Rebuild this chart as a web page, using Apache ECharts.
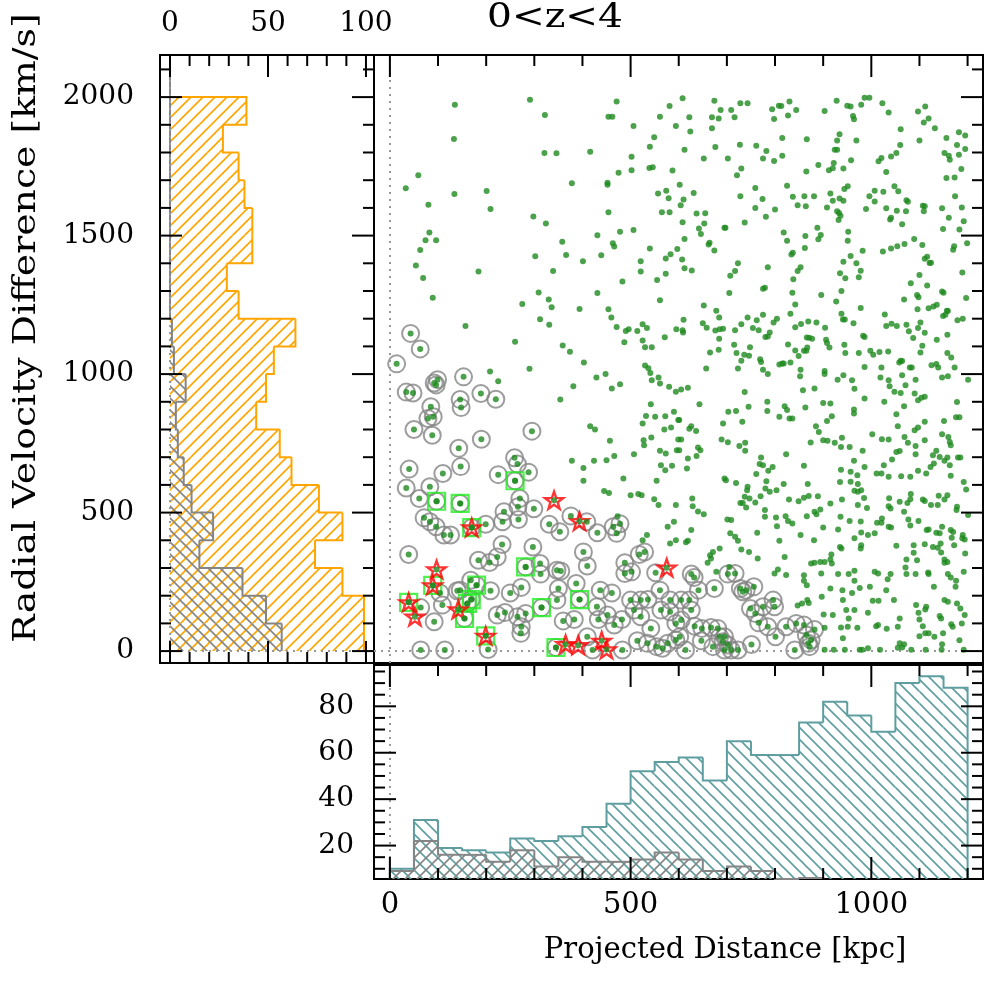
<!DOCTYPE html>
<html>
<head>
<meta charset="utf-8">
<script src="https://cdn.jsdelivr.net/npm/echarts@6/dist/echarts.min.js"></script>
<style>
  html, body { margin: 0; padding: 0; background: #fff; }
  #chart { width: 984px; height: 982px; }
</style>
</head>
<body>
<div id="chart"></div>
<script>
// ---------- data ----------
// velocity bins (km/s) for the side histogram
const velocityEdges = [0,100,200,300,400,500,600,700,800,900,1000,1100,1200,1300,1400,1500,1600,1700,1800,1900,2000,2100];
const velocityAll = [99,99,88,74,88,76,62,56,44,49,53,64,35,29,42,42,38,35,27,39];
const velocityPairs = [57,49,37,15,22,11,7,4,3,8,2,1,0,0,0,0,0,0,0,0,0];

// projected distance bins (kpc) for the lower histogram
const distanceEdges = [0,50,100,150,200,250,300,350,400,450,500,550,600,650,700,750,800,850,900,950,1000,1050,1100,1150,1200];
const distanceAll = [10,31,19,18,17,23,22,24,28,38,52,56,58,48,65,59,59,73,82,76,69,90,93,88];
const distancePairs = [9,22,16,16,13,18,11,15,13,13,14,17,14,9,11,9,0,6];

// tick labels
const distanceTicks = [0,500,1000];
const velocityTicks = [0,500,1000,1500,2000];
const sideCountTicks = [0,50,100];
const lowerCountTicks = [20,40,60,80];

// galaxies: [projected distance kpc, velocity difference km/s]
const fieldUpperRight = [[608,1996],[674,1987],[728,1978],[743,1978],[830,1984],[808,1969],[813,1968],[928,1987],[986,1998],[996,1998],[979,1972],[1023,1978],[950,1969],[957,1966],[687,1953],[709,1953],[794,1956],[844,1953],[903,1950],[1036,1944],[1097,1948],[1112,1966],[622,1927],[669,1927],[683,1923],[716,1927],[798,1921],[827,1934],[962,1932],[964,1920],[1119,1923],[1109,1908],[669,1888],[624,1876],[1061,1884],[1132,1888],[1182,1873],[934,1866],[815,1852],[866,1848],[929,1843],[969,1843],[1100,1843],[1156,1852],[1195,1861],[612,1810],[676,1820],[727,1828],[761,1824],[782,1805],[924,1810],[929,1810],[1060,1827],[1178,1827],[1195,1813],[1052,1798],[652,1778],[702,1778],[775,1778],[798,1769],[815,1788],[958,1772],[922,1762],[1015,1768],[1021,1780],[1041,1786],[1152,1798],[1161,1788],[1182,1792],[1163,1774],[730,1742],[721,1718],[865,1731],[890,1755],[912,1736],[920,1743],[942,1742],[1031,1730],[1187,1740],[1156,1708],[1173,1710],[602,1684],[825,1680],[759,1672],[944,1668],[951,1678],[1048,1678],[631,1654],[728,1642],[774,1632],[837,1640],[861,1642],[881,1642],[915,1652],[920,1626],[934,1634],[942,1626],[996,1642],[1007,1662],[1025,1658],[1056,1660],[1073,1628],[1076,1622],[1174,1642],[604,1610],[610,1630],[759,1600],[847,1610],[864,1606],[908,1601],[929,1588],[933,1582],[989,1596],[1007,1623],[1031,1599],[1053,1590],[1072,1588],[1107,1608],[1111,1606],[1109,1588],[1147,1599],[1188,1601],[637,1580],[655,1581],[608,1548],[653,1544],[737,1547],[781,1568],[800,1594],[932,1556],[936,1572],[1039,1558],[1041,1564],[1064,1541],[1161,1564],[1192,1552],[642,1526],[646,1506],[695,1528],[697,1528],[818,1511],[888,1528],[895,1502],[952,1514],[1149,1524],[1183,1522],[612,1488],[863,1499],[890,1487],[825,1481],[951,1481],[1089,1488],[664,1474],[662,1468],[1069,1470],[1054,1462],[1041,1453],[1024,1443],[982,1445],[862,1455],[837,1438],[834,1432],[674,1446],[1106,1466],[1172,1462],[1170,1449],[1199,1472],[607,1414],[957,1426],[942,1406],[969,1400],[723,1400],[717,1372],[707,1355],[627,1374],[612,1382],[785,1386],[853,1386],[847,1372],[978,1373],[1111,1416],[1116,1424],[1121,1401],[1124,1402],[1189,1367],[838,1342],[935,1364],[946,1346],[974,1350],[1082,1328],[1100,1358],[1116,1320],[779,1312],[775,1308],[705,1293],[836,1294],[896,1286],[938,1300],[927,1262],[1068,1269],[1095,1286],[1098,1277],[1147,1298],[1150,1294],[1197,1275],[652,1248],[842,1251],[978,1239],[1096,1234],[1119,1238],[1129,1244],[1136,1250],[1157,1229],[678,1229],[684,1204],[610,1196],[650,1184],[658,1167],[676,1157],[692,1164],[685,1162],[717,1158],[730,1180],[743,1204],[762,1194],[754,1166],[766,1158],[775,1214],[797,1186],[804,1200],[832,1218],[842,1169],[854,1181],[869,1190],[886,1186],[904,1167],[938,1218],[941,1197],[945,1197],[963,1184],[1028,1215],[1031,1174],[1042,1182],[1053,1174],[1073,1178],[1078,1155],[1097,1166],[1102,1186],[1111,1149],[1149,1210],[1154,1214],[1159,1228],[1179,1194],[1190,1200],[608,1158],[609,1150],[684,1128],[789,1150],[780,1134],[785,1136],[866,1132],[871,1131],[877,1128],[906,1124],[908,1112],[983,1138],[986,1134],[1087,1130],[1136,1124],[1158,1142],[1106,1102],[913,1096],[665,1078],[683,1088],[715,1106],[720,1076],[736,1070],[746,1066],[748,1097],[730,1048],[769,1054],[771,1044],[827,1107],[842,1085],[849,1065],[860,1084],[865,1084],[867,1096],[944,1106],[946,1076],[974,1076],[998,1084],[1004,1070],[1017,1080],[1035,1082],[1058,1042],[1061,1048],[1064,1047],[1080,1024],[1084,1024],[1102,1078],[1125,1032],[1135,1036],[1139,1024],[1158,1076],[1166,1060],[657,1020],[723,1020],[775,1016],[809,1035],[815,1038],[818,1038],[832,1042],[853,1016],[903,1011],[986,1026],[1021,1024],[1173,1024]];

const fieldUpperLeft = [[135,1972],[291,1990],[322,1935],[471,1984],[581,1968],[454,1929],[462,1929],[561,1929],[506,1896],[594,1896],[133,1849],[549,1855],[321,1798],[346,1797],[416,1803],[540,1821],[502,1785],[502,1736],[539,1744],[546,1747],[587,1735],[475,1727],[59,1718],[33,1671],[134,1650],[201,1661],[378,1689],[452,1691],[452,1684],[557,1652],[574,1662],[579,1635],[80,1611],[209,1596],[298,1569],[324,1544],[454,1584],[565,1584],[581,1584],[82,1511],[74,1483],[96,1483],[63,1448],[358,1478],[366,1430],[302,1425],[431,1501],[478,1514],[506,1520],[463,1472],[466,1461],[439,1429],[401,1407],[540,1453],[521,1407],[521,1370],[597,1452],[583,1433],[573,1417],[573,1362],[555,1340],[54,1392],[69,1347],[184,1370],[339,1372],[483,1334],[89,1276],[309,1295],[431,1293],[561,1267],[275,1253],[330,1269],[336,1241],[394,1235],[454,1234],[460,1204],[312,1198],[331,1178],[157,1174],[471,1170],[490,1156],[496,1162],[514,1156],[525,1180],[534,1166],[487,1115],[525,1121],[530,1097],[544,1097],[571,1133],[595,1162],[260,1117],[359,1103],[374,1081],[403,1042],[290,1019],[208,1009],[530,1031],[537,1021]];

const fieldLowerLeft = [[225,974],[381,956],[354,908],[429,988],[448,1000],[461,948],[478,963],[541,1004],[544,978],[561,966],[558,988],[580,954],[594,936],[542,891],[532,849],[551,846],[572,848],[590,864],[599,834],[525,822],[570,800],[584,807],[416,812],[426,800],[457,759],[543,771],[527,761],[528,743],[599,764],[561,723],[573,713],[596,725],[563,671],[572,653],[586,669],[507,711],[466,704],[450,689],[424,687],[402,661],[378,687],[402,615],[485,623],[554,615],[445,578],[455,571],[500,563],[516,567],[523,563],[549,548],[558,527],[594,527],[577,449],[590,467],[534,419],[525,400],[582,388],[594,400],[473,487]];

const fieldLowerRight = [[785,1000],[852,992],[903,1000],[942,996],[930,980],[960,978],[1019,988],[1036,978],[1064,996],[1092,980],[1147,988],[1159,992],[1201,980],[605,944],[619,951],[858,942],[882,948],[965,947],[986,912],[1038,956],[1048,936],[1061,932],[1071,960],[1090,930],[1097,906],[1104,915],[1111,918],[737,935],[643,891],[784,900],[784,867],[745,882],[820,884],[825,870],[863,879],[900,896],[915,894],[964,872],[964,858],[1027,900],[1068,884],[1178,899],[703,864],[719,867],[601,834],[692,822],[732,828],[809,846],[830,840],[836,840],[918,848],[908,831],[885,812],[891,791],[1052,855],[1055,812],[1111,828],[1151,831],[1176,844],[1183,844],[1090,797],[1097,807],[622,803],[626,812],[636,795],[1002,783],[1147,783],[605,764],[689,764],[702,754],[726,740],[738,752],[738,723],[874,753],[900,761],[909,759],[924,752],[939,770],[937,737],[955,737],[982,723],[1022,765],[1036,764],[1069,773],[1076,752],[1092,740],[1111,761],[1135,723],[1160,773],[1163,755],[1165,743],[1185,699],[640,735],[645,725],[601,725],[619,695],[637,704],[823,711],[1052,719],[1059,722],[1092,711],[1128,707],[1142,701],[1158,699],[1180,699],[771,699],[768,675],[775,671],[795,665],[786,651],[617,659],[860,669],[937,655],[957,647],[964,687],[986,665],[1043,692],[1026,671],[1021,641],[1011,641],[1036,629],[1062,631],[1081,629],[1097,651],[1114,641],[1123,665],[1130,677],[1152,687],[1163,671],[1165,633],[1192,610],[1197,583],[761,639],[782,613],[695,623],[698,617],[719,607],[743,593],[742,581],[780,587],[789,575],[803,581],[818,603],[868,603],[935,610],[957,611],[971,635],[972,603],[628,551],[629,523],[640,504],[652,494],[728,535],[733,535],[740,518],[737,557],[747,551],[759,536],[770,559],[829,547],[849,541],[860,554],[870,560],[889,559],[882,503],[886,494],[894,511],[915,533],[939,547],[965,579],[972,575],[979,581],[985,553],[972,527],[991,517],[1037,552],[1040,515],[1036,523],[1059,539],[1075,535],[1081,548],[1082,567],[1107,547],[1111,542],[1124,527],[1138,527],[1140,561],[1152,547],[1158,563],[1177,509],[1178,521],[1201,491],[701,475],[709,473],[779,509],[779,485],[802,482],[804,451],[822,487],[827,470],[836,461],[866,487],[900,446],[931,439],[936,485],[955,470],[978,468],[1012,463],[1022,479],[1021,463],[1036,449],[1041,446],[1068,503],[1077,475],[1081,453],[1098,470],[1115,437],[1119,439],[1135,427],[1142,425],[1147,449],[1165,437],[1170,430],[1190,419],[1194,403],[1189,407],[626,437],[619,398],[615,393],[685,370],[671,358],[665,346],[707,425],[717,413],[723,398],[730,367],[746,358],[763,427],[764,334],[809,398],[853,419],[881,400],[917,349],[935,376],[938,370],[965,407],[979,428],[979,382],[978,370],[993,419],[1007,425],[1052,380],[1088,382],[1088,355],[1073,331],[1095,328],[1111,386],[1128,376],[1138,373],[1144,388],[1145,356],[1152,331],[1158,322],[1167,409],[1172,382],[1195,352],[820,340],[678,286],[660,319],[667,334],[705,304],[799,280],[806,295],[823,275],[860,274],[860,254],[875,316],[882,319],[894,322],[903,322],[918,316],[915,331],[896,280],[866,238],[915,226],[931,278],[953,278],[965,290],[965,254],[976,228],[997,232],[1007,286],[1014,280],[1034,259],[1040,278],[1092,278],[1118,284],[1119,278],[1071,302],[1073,278],[1152,319],[1159,278],[1165,266],[1176,254],[1175,232],[1192,286],[847,165],[856,172],[867,184],[870,174],[897,196],[901,132],[920,130],[940,220],[941,184],[948,148],[953,118],[960,210],[965,148],[993,138],[1003,182],[1015,182],[1031,220],[1047,184],[1059,118],[1093,166],[1098,138],[1112,150],[1114,160],[1130,232],[1152,184],[1159,178],[1178,172],[1185,154],[1194,130],[1188,100],[1142,127],[1145,118],[1166,97],[1169,88],[1107,90],[1100,114],[1055,88],[1032,81],[1014,94],[1010,90],[971,84],[951,88],[937,85],[941,46],[903,84],[1100,54],[1112,64],[1119,64],[1131,52],[1149,64],[1147,25],[1183,39],[1192,5],[1113,5],[1146,5],[1083,5],[1059,28],[1064,13],[1068,25],[1055,12],[1018,5],[993,10],[981,5],[976,5],[945,5],[922,5],[903,5]];

// close pairs (ringed)
const pairs = [[43,1147],[63,1091],[14,1037],[153,990],[92,968],[99,980],[96,961],[34,935],[48,932],[146,908],[148,879],[189,930],[220,909],[85,882],[79,840],[90,846],[50,800],[88,779],[295,794],[143,732],[190,765],[40,657],[110,641],[147,666],[34,589],[83,593],[61,551],[97,541],[146,533],[225,637],[259,698],[265,675],[288,646],[260,615],[270,551],[266,521],[267,475],[299,514],[237,503],[234,467],[331,458],[353,431],[376,488],[409,467],[431,427],[464,449],[471,425],[478,460],[71,481],[83,467],[96,449],[112,419],[126,419],[170,446],[199,458],[233,385],[297,376],[39,349],[184,328],[207,320],[223,340],[282,304],[312,316],[313,278],[347,292],[355,289],[402,358],[410,307],[387,244],[488,319],[518,349],[529,358],[488,280],[502,286],[552,283],[168,256],[146,220],[209,218],[250,210],[273,230],[350,226],[437,220],[461,210],[500,184],[521,184],[536,186],[561,220],[582,184],[347,184],[92,106],[109,166],[104,210],[140,218],[64,157],[180,238],[169,186],[161,172],[155,118],[223,130],[239,139],[265,124],[282,136],[273,88],[360,109],[383,114],[430,160],[433,114],[452,130],[466,94],[482,114],[507,148],[521,124],[542,82],[563,148],[582,142],[594,100],[272,64],[410,52],[421,4],[483,4],[514,37],[535,28],[554,16],[566,10],[577,28],[594,40],[204,6],[64,4],[114,4],[345,13],[315,157],[394,186],[626,278],[632,266],[641,220],[622,184],[605,184],[626,148],[605,112],[633,90],[648,82],[667,85],[681,82],[674,226],[702,278],[717,280],[733,214],[728,226],[740,220],[756,232],[749,154],[759,136],[775,160],[796,184],[799,160],[785,88],[801,52],[766,102],[751,24],[702,22],[695,52],[685,52],[692,34],[709,4],[723,4],[695,4],[671,16],[647,37],[602,52],[614,4],[823,88],[844,100],[841,4],[860,94],[865,58],[869,28],[875,40],[882,78],[872,16]];

// boxed members
const boxed = [[97,541],[146,533],[170,446],[260,615],[282,304],[89,237],[39,176],[180,238],[169,186],[161,172],[155,118],[199,55],[315,157],[394,186],[345,13]];

// starred members
const starred = [[341,545],[394,469],[170,446],[97,295],[89,237],[39,176],[52,124],[142,150],[199,55],[365,25],[391,21],[440,37],[450,6],[575,301]];

// ---------- appearance ----------
const FONT = '"DejaVu Serif", "Liberation Serif", serif';
const GREEN = '#1f8a1f';
const ORANGE = '#ffa500';
const GREY = '#858585';
const TEAL = '#5f9ea0';

const MAIN_X = [-33, 1232];
const MAIN_Y = [-43, 2152];
const SIDE_X = [-5.1, 104.1];
const LOW_Y = [5.6, 97.8];

function hatch(color, dir, step, lw) {
  const c = document.createElement('canvas');
  c.width = step; c.height = step;
  const g = c.getContext('2d');
  g.strokeStyle = color;
  g.lineWidth = lw;
  g.beginPath();
  for (let k = -1; k <= 1; k++) {
    if (dir === '/') {
      g.moveTo(k * step - 1, step + 1);
      g.lineTo(k * step + step + 1, -1);
    } else {
      g.moveTo(k * step - 1, -1);
      g.lineTo(k * step + step + 1, step + 1);
    }
  }
  g.stroke();
  return { image: c, repeat: 'repeat' };
}

// histogram drawn as hatched bins with a stepped outline
function histogram(grid, edges, counts, color, fill, horizontal, base, closedStart, z) {
  const data = counts.map((c, i) => [edges[i], edges[i + 1], c,
    i > 0 ? counts[i - 1] : (closedStart ? base : -1), i === counts.length - 1 ? 1 : 0]);
  return {
    type: 'custom', xAxisIndex: grid, yAxisIndex: grid, silent: true, z: z,
    encode: horizontal ? { y: [0, 1], x: 2 } : { x: [0, 1], y: 2 },
    data: data,
    renderItem: function (params, api) {
      const lo = api.value(0), hi = api.value(1);
      const c = Math.max(api.value(2), base);
      const prev = api.value(3), last = api.value(4);
      const P = (v, q) => horizontal ? api.coord([q, v]) : api.coord([v, q]);
      const a = P(lo, base), b = P(hi, c);
      const pts = [];
      if (prev >= 0) pts.push(P(lo, Math.max(prev, base)));
      pts.push(P(lo, c), P(hi, c));
      if (last) pts.push(P(hi, base));
      return {
        type: 'group',
        children: [
          { type: 'rect',
            shape: { x: Math.min(a[0], b[0]), y: Math.min(a[1], b[1]),
                     width: Math.abs(b[0] - a[0]), height: Math.abs(b[1] - a[1]) },
            style: { fill: fill, stroke: null } },
          { type: 'polyline', shape: { points: pts },
            style: { stroke: color, lineWidth: 2, fill: null } }
        ]
      };
    }
  };
}

// inward tick marks along one side of a panel
function ticks(grid, side, values, majors, other) {
  const alongX = side === 'top' || side === 'bottom';
  return {
    type: 'custom', xAxisIndex: grid, yAxisIndex: grid, silent: true, z: 20,
    data: values.map(v => alongX ? [v, other] : [other, v]),
    renderItem: function (params, api) {
      const cs = params.coordSys;
      const vx = api.value(0), vy = api.value(1);
      const v = alongX ? vx : vy;
      const p = api.coord([vx, vy]);
      const L = majors.indexOf(v) >= 0 ? 22 : 11;
      let s;
      if (side === 'top') s = { x1: p[0], y1: cs.y, x2: p[0], y2: cs.y + L };
      else if (side === 'bottom') s = { x1: p[0], y1: cs.y + cs.height, x2: p[0], y2: cs.y + cs.height - L };
      else if (side === 'left') s = { x1: cs.x, y1: p[1], x2: cs.x + L, y2: p[1] };
      else s = { x1: cs.x + cs.width, y1: p[1], x2: cs.x + cs.width - L, y2: p[1] };
      return { type: 'line', shape: s, style: { stroke: '#000', lineWidth: 2 } };
    }
  };
}

function range(a, b, step) {
  const out = [];
  for (let v = a; v <= b + 1e-9; v += step) out.push(v);
  return out;
}

function refLines(grid, lines) {
  return {
    type: 'scatter', xAxisIndex: grid, yAxisIndex: grid, data: [], silent: true, z: 1,
    markLine: {
      silent: true, symbol: 'none', animation: false,
      label: { show: false },
      lineStyle: { color: '#999', width: 2, type: [2, 5] },
      data: lines
    }
  };
}

const plain = v => String(v);
const hidden = { axisLine: { show: false }, axisTick: { show: false },
                 axisLabel: { show: false }, splitLine: { show: false } };
const labelStyle = { color: '#000', fontFamily: FONT, fontSize: 28, formatter: plain };

const allPoints = [].concat(fieldUpperRight, fieldUpperLeft, fieldLowerLeft, fieldLowerRight, pairs, boxed, starred);

const option = {
  animation: false,
  backgroundColor: '#fff',
  grid: [
    { left: 374, top: 55, width: 609, height: 608, show: true, borderColor: '#000', borderWidth: 2 },
    { left: 160, top: 55, width: 214, height: 608, show: true, borderColor: '#000', borderWidth: 2 },
    { left: 374, top: 665, width: 609, height: 214, show: true, borderColor: '#000', borderWidth: 2 }
  ],
  xAxis: [
    Object.assign({ gridIndex: 0, type: 'value', min: MAIN_X[0], max: MAIN_X[1] }, hidden),
    { gridIndex: 1, type: 'value', min: SIDE_X[0], max: SIDE_X[1], position: 'top',
      axisLine: { show: false }, axisTick: { show: false }, splitLine: { show: false },
      axisLabel: Object.assign({ customValues: sideCountTicks, margin: 17 }, labelStyle) },
    { gridIndex: 2, type: 'value', min: MAIN_X[0], max: MAIN_X[1], position: 'bottom',
      axisLine: { show: false }, axisTick: { show: false }, splitLine: { show: false },
      axisLabel: Object.assign({ customValues: distanceTicks, margin: 12 }, labelStyle, { fontSize: 29 }) }
  ],
  yAxis: [
    Object.assign({ gridIndex: 0, type: 'value', min: MAIN_Y[0], max: MAIN_Y[1] }, hidden),
    { gridIndex: 1, type: 'value', min: MAIN_Y[0], max: MAIN_Y[1],
      axisLine: { show: false }, axisTick: { show: false }, splitLine: { show: false },
      axisLabel: Object.assign({ customValues: velocityTicks, margin: 26 }, labelStyle) },
    { gridIndex: 2, type: 'value', min: LOW_Y[0], max: LOW_Y[1],
      axisLine: { show: false }, axisTick: { show: false }, splitLine: { show: false },
      axisLabel: Object.assign({ customValues: lowerCountTicks, margin: 20 }, labelStyle) }
  ],
  graphic: [
    { type: 'text', x: 555, y: 18, scaleX: 1.15, silent: true,
      style: { text: '0<z<4', font: '34px ' + FONT, fill: '#000', align: 'center', verticalAlign: 'middle' } },
    { type: 'text', x: 725, y: 950, silent: true,
      style: { text: 'Projected Distance [kpc]', font: '29px ' + FONT, fill: '#000', align: 'center', verticalAlign: 'middle' } },
    { type: 'text', x: 27, y: 328, rotation: Math.PI / 2, scaleX: 1.18, silent: true,
      style: { text: 'Radial Velocity Difference [km/s]', font: '32px ' + FONT, fill: '#000', align: 'center', verticalAlign: 'middle' } }
  ],
  series: [
    refLines(0, [{ xAxis: 0 }, { yAxis: 0 }]),
    refLines(1, [{ xAxis: 0 }, { yAxis: 0 }]),
    refLines(2, [{ xAxis: 0 }]),

    histogram(1, velocityEdges, velocityAll, ORANGE, hatch(ORANGE, '/', 12, 1.6), true, 0, false, 2),
    histogram(1, velocityEdges, velocityPairs, GREY, hatch(GREY, '\\', 12, 1.6), true, 0, false, 3),
    histogram(2, distanceEdges, distanceAll, TEAL, hatch(TEAL, '\\', 12, 1.6), false, LOW_Y[0], true, 2),
    histogram(2, distanceEdges, distancePairs, GREY, hatch(GREY, '/', 12, 1.6), false, LOW_Y[0], true, 3),

    { type: 'scatter', xAxisIndex: 0, yAxisIndex: 0, silent: true, z: 3,
      symbol: 'circle', symbolSize: 17, data: pairs,
      itemStyle: { color: 'rgba(0,0,0,0)', borderColor: GREY, borderWidth: 2 } },
    { type: 'scatter', xAxisIndex: 0, yAxisIndex: 0, silent: true, z: 4,
      symbol: 'rect', symbolSize: 17, data: boxed,
      itemStyle: { color: 'rgba(0,0,0,0)', borderColor: '#22ee22', borderWidth: 2.2 } },
    { type: 'scatter', xAxisIndex: 0, yAxisIndex: 0, silent: true, z: 5,
      symbol: 'path://M50 2 L61.8 36.2 L97.6 36.5 L69 58 L79.4 92.3 L50 71.7 L20.6 92.3 L31 58 L2.4 36.5 L38.2 36.2 Z',
      symbolSize: 18, symbolKeepAspect: true, data: starred,
      itemStyle: { color: 'rgba(0,0,0,0)', borderColor: '#ff0000', borderWidth: 2.4 } },
    { type: 'scatter', xAxisIndex: 0, yAxisIndex: 0, silent: true, z: 6,
      symbol: 'circle', symbolSize: 6, data: allPoints,
      itemStyle: { color: GREEN } },

    ticks(0, 'top', range(0, 1200, 100), [0, 500, 1000], 0),
    ticks(0, 'right', range(0, 2100, 100), [0, 500, 1000, 1500, 2000], 0),
    ticks(1, 'left', range(0, 2100, 100), [0, 500, 1000, 1500, 2000], 0),
    ticks(1, 'right', range(0, 2100, 100), [0, 500, 1000, 1500, 2000], 0),
    ticks(1, 'top', range(0, 100, 10), [0, 50, 100], 0),
    ticks(1, 'bottom', range(0, 100, 10), [0, 50, 100], 0),
    ticks(2, 'top', range(0, 1200, 100), [0, 500, 1000], 20),
    ticks(2, 'bottom', range(0, 1200, 100), [0, 500, 1000], 20),
    ticks(2, 'left', range(10, 95, 5), [20, 40, 60, 80], 0),
    ticks(2, 'right', range(10, 95, 5), [20, 40, 60, 80], 0)
  ]
};

const chart = echarts.init(document.getElementById('chart'), null, { renderer: 'canvas' });
chart.setOption(option);
</script>
</body>
</html>
